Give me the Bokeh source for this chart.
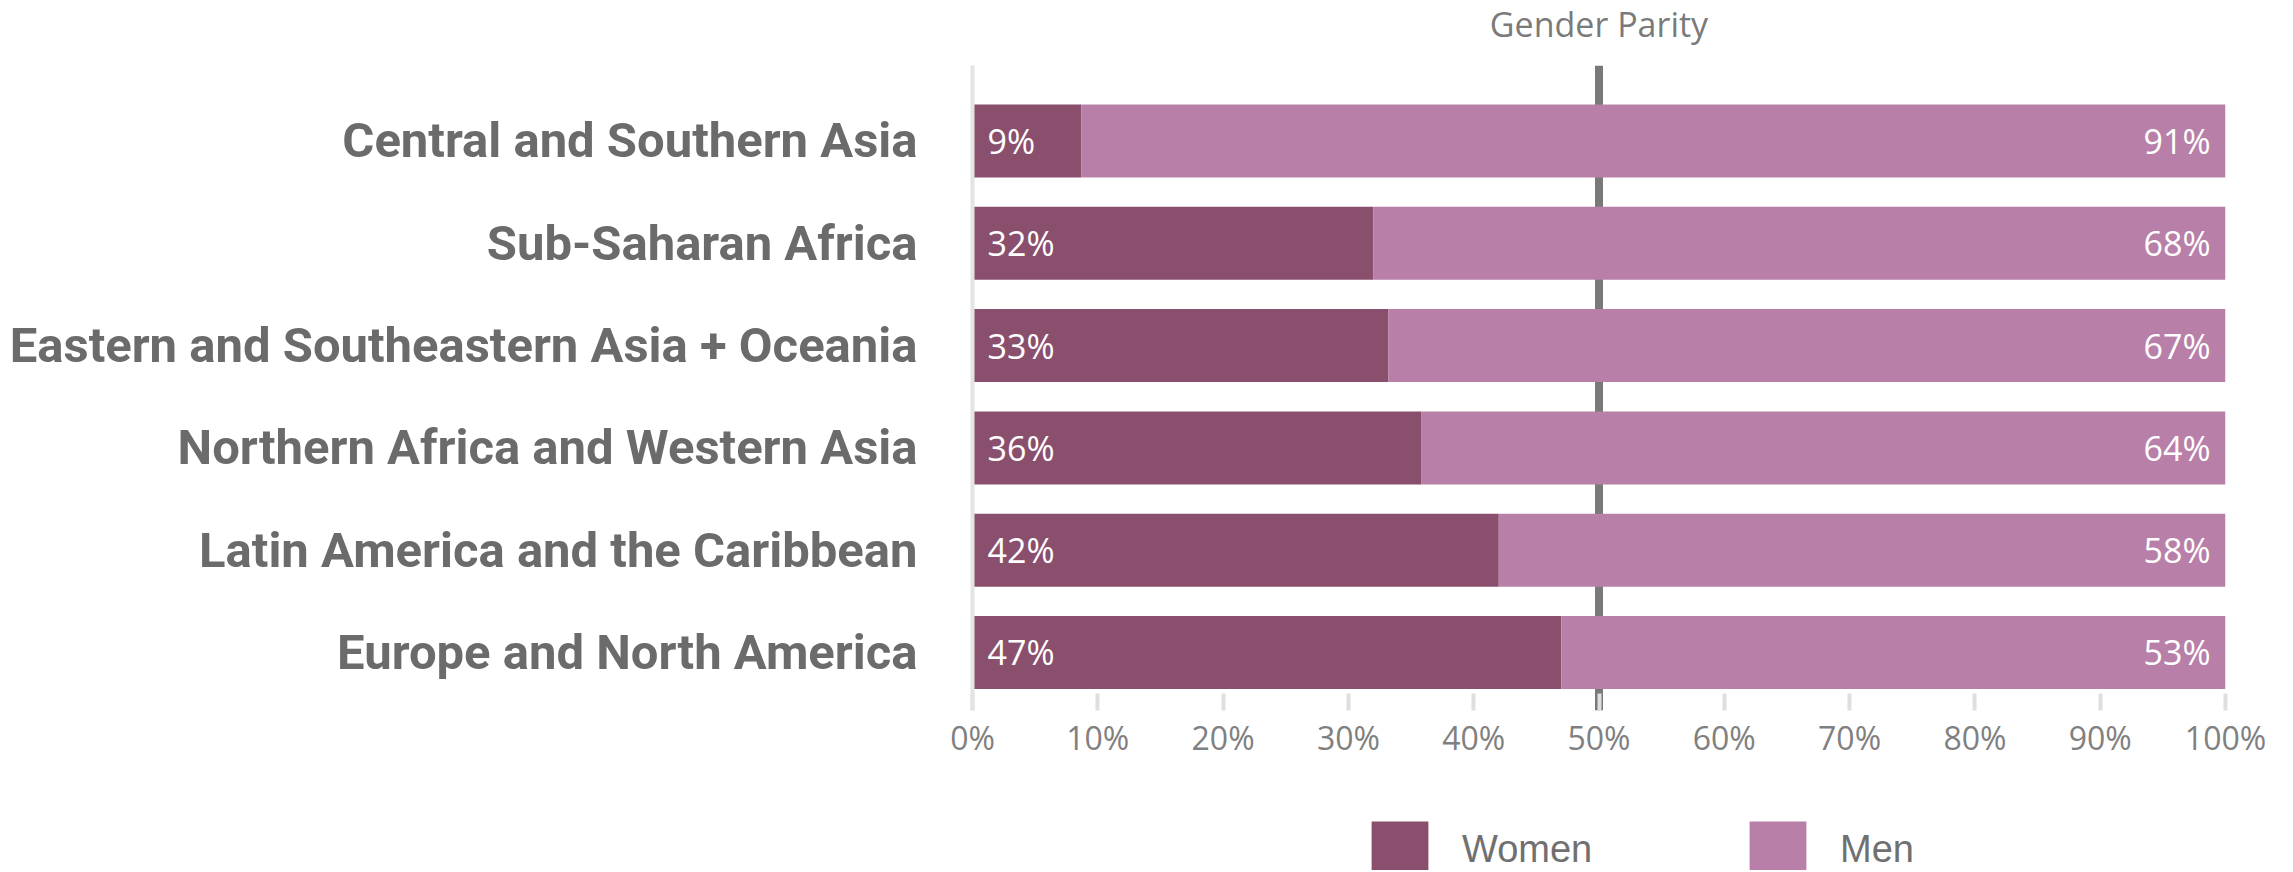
from bokeh.plotting import figure
from bokeh.layouts import column
from bokeh.models import (Range1d, FixedTicker, Span, Label, Legend, LegendItem)
from bokeh.core.properties import value
from bokeh.embed import file_html
from bokeh.resources import INLINE

# ---- data ----
regions = [
    "Central and Southern Asia",
    "Sub-Saharan Africa",
    "Eastern and Southeastern Asia + Oceania",
    "Northern Africa and Western Asia",
    "Latin America and the Caribbean",
    "Europe and North America",
]
women = [8.7, 32.0, 33.2, 35.8, 42.0, 47.0]
men = [91.3, 68.0, 66.8, 64.2, 58.0, 53.0]
x_ticks = [0, 10, 20, 30, 40, 50, 60, 70, 80, 90, 100]
x_tick_labels = ["0%", "10%", "20%", "30%", "40%", "50%", "60%", "70%", "80%", "90%", "100%"]
parity = 50
parity_label = "Gender Parity"
series_names = ["Women", "Men"]

# ---- styles ----
C_WOMEN = "#8b4f6e"
C_MEN = "#b880a8"
GRAY_TXT = "#7a7a7a"
CAT_TXT = "#6b6b6b"
W = 2290
LEFT = 972
FRAME_W = 1253
RIGHT = W - LEFT - FRAME_W

n = len(regions)
ys = [n - 1 - i for i in range(n)]
starts = [0] * n
ends = [w + m for w, m in zip(women, men)]
women_lbl = [f"{round(v)}%" for v in women]
men_lbl = [f"{round(v)}%" for v in men]

xr = Range1d(0, 100)


def blank(fig):
    fig.axis.visible = False
    fig.grid.visible = False
    fig.outline_line_color = None
    fig.background_fill_color = "white"
    fig.border_fill_color = "white"


# ---- header strip with the parity caption ----
tf = figure(width=W, height=65, output_backend="svg", toolbar_location=None,
            x_range=xr, y_range=Range1d(0, 65), min_border_left=LEFT,
            min_border_right=RIGHT, min_border_top=0, min_border_bottom=0)
blank(tf)
tf.add_layout(Label(x=parity, y=42, text=parity_label, text_align="center",
                    text_baseline="alphabetic", text_color=GRAY_TXT,
                    text_font="Open Sans", text_font_size="34px"))

# ---- main chart ----
p = figure(width=W, height=715, output_backend="svg", toolbar_location=None,
           x_range=xr, y_range=Range1d(-0.567, 5.738),
           min_border_left=LEFT, min_border_right=RIGHT, min_border_top=0,
           min_border_bottom=70)
p.outline_line_color = None
p.xgrid.visible = False
p.ygrid.visible = False
p.background_fill_color = "white"
p.border_fill_color = "white"

span = Span(location=parity, dimension="height", line_color="#7b7878",
            line_width=8, level="underlay")
p.add_layout(span)

rw = p.hbar(y=ys, left=starts, right=women, height=0.714, fill_color=C_WOMEN,
            line_color=None)
rm = p.hbar(y=ys, left=women, right=ends, height=0.714, fill_color=C_MEN,
            line_color=None)

p.text(x=starts, y=ys, text=women_lbl, x_offset=15, text_align="left",
       text_baseline="middle", text_color="white",
       text_font=value("Open Sans"), text_font_size="34px")
p.text(x=ends, y=ys, text=men_lbl, x_offset=-15, text_align="right",
       text_baseline="middle", text_color="white",
       text_font=value("Open Sans"), text_font_size="34px")

# x axis
xa = p.xaxis[0]
xa.ticker = FixedTicker(ticks=x_ticks)
xa.major_label_overrides = {t: l for t, l in zip(x_ticks, x_tick_labels)}
xa.axis_line_color = None
xa.major_tick_in = 17
xa.major_tick_out = 0
xa.major_tick_line_color = "#dfdfdf"
xa.major_tick_line_width = 4
xa.minor_tick_line_color = None
xa.major_label_text_font = "Open Sans"
xa.major_label_text_font_size = "32px"
xa.major_label_text_color = "#808080"
xa.major_label_standoff = 5

# y axis
ya = p.yaxis[0]
ya.ticker = FixedTicker(ticks=ys)
ya.major_label_overrides = {y: r for y, r in zip(ys, regions)}
ya.axis_line_color = "#e4e4e4"
ya.axis_line_width = 4
ya.major_tick_in = 0
ya.major_tick_out = 0
ya.minor_tick_line_color = None
ya.major_label_text_font = "Roboto"
ya.major_label_text_font_style = "bold"
ya.major_label_text_font_size = "49px"
ya.major_label_text_color = CAT_TXT
ya.major_label_standoff = 55

# ---- legend strip below the chart (frame aligned with the chart's) ----
lf = figure(width=W, height=90, output_backend="svg", toolbar_location=None,
            x_range=xr, y_range=Range1d(0, 1), min_border_left=LEFT,
            min_border_right=RIGHT, min_border_top=0, min_border_bottom=0)
blank(lf)
# proxy renderers (hidden) carrying the series styles for the legend swatches
lw = lf.hbar(y=ys, left=starts, right=women, height=0.714, fill_color=C_WOMEN,
             line_color=None, visible=False)
lm = lf.hbar(y=ys, left=women, right=ends, height=0.714, fill_color=C_MEN,
             line_color=None, visible=False)

legend = Legend(items=[LegendItem(label=series_names[0], renderers=[lw]),
                       LegendItem(label=series_names[1], renderers=[lm])],
                orientation="horizontal", location=(392, -15),
                glyph_width=71, glyph_height=71, label_standoff=27,
                label_width=280, spacing=0, padding=0, margin=0,
                border_line_color=None, background_fill_alpha=0,
                inactive_fill_alpha=0,
                label_text_font="Liberation Sans", label_text_font_size="38px",
                label_text_color="#707070")
lf.add_layout(legend, "center")

layout = column(tf, p, lf, spacing=0)
open("out.html", "w").write(file_html(layout, INLINE))
